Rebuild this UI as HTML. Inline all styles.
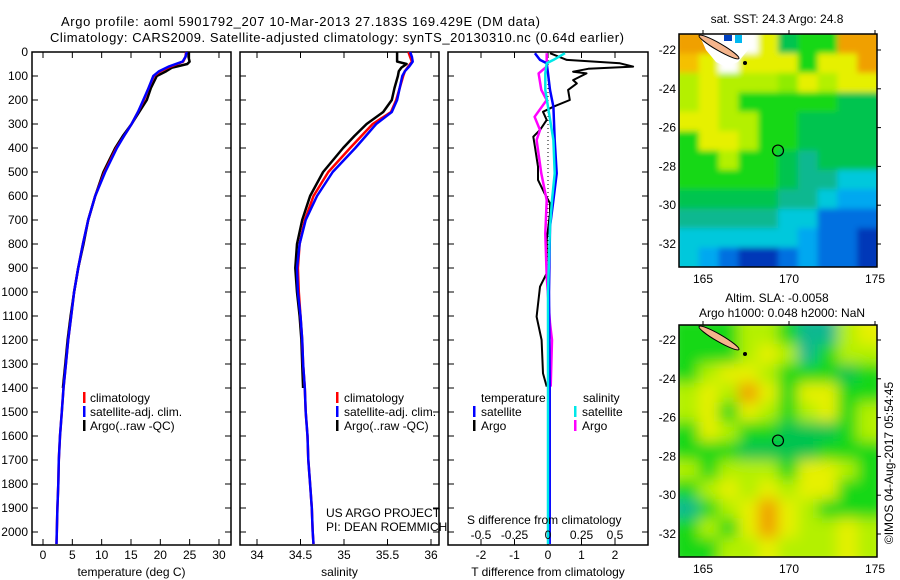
<!DOCTYPE html>
<html><head><meta charset="utf-8"><style>
body{margin:0;background:#fff}
svg{display:block;font-family:"Liberation Sans",Arial,sans-serif}
</style></head><body>
<svg id="c" width="900" height="580" viewBox="0 0 900 580" xmlns="http://www.w3.org/2000/svg">
<defs><filter id="blur" x="0" y="0" width="1" height="1"><feGaussianBlur stdDeviation="7"/></filter>
<filter id="blur2" x="0" y="0" width="1" height="1"><feGaussianBlur stdDeviation="3"/></filter>
<clipPath id="clipSST"><rect x="679" y="34" width="198" height="233"/></clipPath>
<clipPath id="clipSLA"><rect x="679" y="325" width="198" height="232"/></clipPath></defs>
<text x="61" y="26" font-size="13" textLength="479">Argo profile: aoml 5901792_207 10-Mar-2013 27.183S 169.429E (DM data)</text>
<text x="50" y="42" font-size="13" textLength="574">Climatology: CARS2009. Satellite-adjusted climatology: synTS_20130310.nc (0.64d earlier)</text>
<g id="g"></g>
</svg>
<script>
// ---------- data ----------
const depthTick = [0,100,200,300,400,500,600,700,800,900,1000,1100,1200,1300,1400,1500,1600,1700,1800,1900,2000];
const tempTicks = [0,5,10,15,20,25,30];
const salTicks = [34,34.5,35,35.5,36];
const salTickLabels = ["34","34.5","35","35.5","36"];
const tdiffTicks = [-2,-1,0,1,2];
const sdiffTicks = [-0.5,-0.25,0,0.25,0.5];
const sdiffTickLabels = ["-0.5","-0.25","0","0.25","0.5"];

const climDepth = [0,20,40,60,80,100,150,200,250,300,350,400,500,600,700,800,900,1000,1100,1200,1300,1400,1500,1600,1700,1800,1900,2000,2050];
const tempClim  = [24.4,24.3,23.9,21.8,20.0,18.9,18.0,17.2,16.2,15.1,13.8,12.5,10.5,8.9,7.7,6.8,6.0,5.3,4.8,4.3,3.9,3.5,3.2,2.9,2.7,2.6,2.45,2.35,2.3];
const tempSat   = [24.5,24.3,23.8,21.5,19.8,18.8,18.0,17.1,16.2,15.1,13.8,12.6,10.6,8.9,7.7,6.8,6.0,5.3,4.8,4.3,3.9,3.5,3.2,2.9,2.7,2.6,2.45,2.35,2.3];
const salClim   = [35.74,35.76,35.78,35.74,35.70,35.68,35.64,35.60,35.54,35.33,35.2,35.07,34.82,34.65,34.55,34.49,34.47,34.48,34.5,34.52,34.53,34.55,34.56,34.58,34.59,34.61,34.63,34.64,34.65];
const salSat    = [35.76,35.78,35.79,35.75,35.70,35.67,35.64,35.61,35.55,35.37,35.25,35.13,34.87,34.69,34.56,34.49,34.46,34.47,34.5,34.52,34.53,34.55,34.56,34.58,34.59,34.61,34.63,34.64,34.65];

const argoDepth = [0,20,40,50,65,80,100,150,200,250,300,350,400,500,600,700,800,900,1000,1100,1200,1300,1400];
const tempArgo  = [24.8,24.8,25.0,24.6,22.0,21.0,19.4,18.4,17.7,16.4,15.1,13.6,12.3,10.3,8.9,7.7,6.9,6.0,5.3,4.7,4.2,3.8,3.4];
const salArgo   = [35.61,35.61,35.61,35.72,35.66,35.63,35.62,35.58,35.55,35.45,35.26,35.12,34.99,34.76,34.61,34.52,34.46,34.44,34.46,34.49,34.51,34.52,34.53];

const diffDepth    = [5,33,47,61,70,82,89,117,131,158,200,228,249,283,325,353,394,478,533,589,631,672,783,922,978,1103,1200,1339,1394];
const tdiffArgo    = [0.06,0.56,2.15,2.54,1.2,0.75,1.15,0.75,0.86,0.6,0.65,0.16,-0.15,-0.04,-0.24,-0.44,-0.39,-0.3,-0.3,-0.1,0.06,0.06,-0.04,-0.04,-0.24,-0.34,-0.19,-0.15,-0.04];
const satDiffDepth = [5,33,47,89,158,228,367,506,617,728,1000,1400,2050];
const tdiffSat     = [-0.39,-0.24,-0.04,0,0.06,0.16,0.2,0.26,0.16,0.06,0.03,0.05,0.05];
const sdiffSat     = [0.127,0.04,-0.01,-0.02,-0.02,0,0.04,0.05,0.03,0.015,0.0,0.0,0.0];
const sArgoDepth   = [5,61,89,158,200,270,325,367,506,617,756,936,1130,1200,1394];
const sdiffArgo    = [-0.01,-0.01,-0.07,-0.05,-0.01,-0.1,-0.06,-0.085,-0.05,-0.01,-0.02,-0.01,0.015,0.03,0.02];

const sstColors = [
"OOWWYGggOO","oYWYYYgYYO","yYyyyzYyYY","yYygggggGG","YYyyggGGGG","gYYyggGGGG","ggyggGTGGG","gggggGTTCC","GGGGGTTCLL","TTTTTCCBBB","CCCCCCLBBD","CLBDDBLBBD"];
const slaColors = [
"gggyygTTyY","gggyYyTgyy","gyYYygggGg","yYyOYgYYgg","yYgYygyYgy","gYyggGGGgy","gggGGGGggg","ygyyygYYyg","gyYyYyYYgg","TgyYOYyggg","gygYOYyyYy","ggyyYyyyYy"];
const palette = {O:"#f0a000",o:"#f5c000",Y:"#e6f000",y:"#b4f000",z:"#90ec00",g:"#18d818",G:"#00c450",T:"#10b890",C:"#00c8dc",L:"#00a8f0",B:"#0070e0",D:"#0038b8",W:"#ffffff"};

// ---------- helpers ----------
const NS="http://www.w3.org/2000/svg";
const G=document.getElementById('g');
function mk(tag,attrs,parent){const e=document.createElementNS(NS,tag);for(const k in attrs)e.setAttribute(k,attrs[k]);(parent||G).appendChild(e);return e;}
const yD = d => 52 + d*0.24;
const xT = t => 43 + t*5.866;
const xS = s => 257 + (s-34)*87;
const xTd = v => 548 + v*33.5;
const xSd = v => 548 + v*134;
const P1={l:32,r:231}, P2={l:240,r:439}, P3={l:448,r:648}, TOP=52, BOT=545;

function panel(p,name,xs,xf,labels,title){
  const r=mk('rect',{x:p.l,y:TOP,width:p.r-p.l,height:BOT-TOP,fill:'none',stroke:'#000','stroke-width':1.5});
  
  
  depthTick.forEach(d=>{
    const t1=mk('line',{x1:p.l,x2:p.l+6,y1:yD(d),y2:yD(d),stroke:'#000'});
    
    
    const t2=mk('line',{x1:p.r-6,x2:p.r,y1:yD(d),y2:yD(d),stroke:'#000'});
    
    
  });
  xs.forEach((v,i)=>{
    const x=xf(v);
    const a=mk('line',{x1:x,x2:x,y1:TOP,y2:TOP+6,stroke:'#000'});
    
    
    const b=mk('line',{x1:x,x2:x,y1:BOT-6,y2:BOT,stroke:'#000'});
    
    
    const t=mk('text',{x:x,y:559,'font-size':12,'text-anchor':'middle'});t.textContent=labels[i];
    
    
  });
  const tt=mk('text',{x:(p.l+p.r)/2,y:576,'font-size':12,'text-anchor':'middle'});tt.textContent=title;
  
  
}
function line(xs,ds,xf,color,w,name){
  const pts=xs.map((v,i)=>xf(v).toFixed(1)+','+yD(ds[i]).toFixed(1)).join(' ');
  const e=mk('polyline',{points:pts,fill:'none',stroke:color,'stroke-width':w,'stroke-linejoin':'round'});
  
  
}
function txt(x,y,s,name,extra){const t=mk('text',Object.assign({x:x,y:y,'font-size':12},extra||{}));t.textContent=s;
  
  
  return t;}
function mark(x,y,color,name){const e=mk('rect',{x:x,y:y-10,width:2.5,height:11,fill:color});
  
  }

depthTick.forEach(d=>{const t=mk('text',{x:28,y:yD(d)+4,'font-size':12,'text-anchor':'end'});t.textContent=d;
  
  });

panel(P1,'temperature-panel',tempTicks,xT,tempTicks.map(String),'temperature (deg C)');
panel(P2,'salinity-panel',salTicks,xS,salTickLabels,'salinity');
panel(P3,'difference-panel',tdiffTicks,xTd,tdiffTicks.map(String),'T difference from climatology');

line(tempArgo,argoDepth,xT,'#000',2.5,'temp-argo-line');
line(tempClim,climDepth,xT,'#ff0000',2.5,'temp-climatology-line');
line(tempSat,climDepth,xT,'#0000ff',2.5,'temp-satellite-line');
line(salArgo,argoDepth,xS,'#000',2.5,'sal-argo-line');
line(salClim,climDepth,xS,'#ff0000',2.5,'sal-climatology-line');
line(salSat,climDepth,xS,'#0000ff',2.5,'sal-satellite-line');
const z=mk('line',{x1:548,x2:548,y1:TOP,y2:BOT,stroke:'#000','stroke-dasharray':'1 3'});


line(tdiffArgo,diffDepth,xTd,'#000',2,'tdiff-argo-line');
line(sdiffArgo,sArgoDepth,xSd,'#ff00ff',2.5,'sdiff-argo-line');
line(tdiffSat,satDiffDepth,xTd,'#0000ff',2.5,'tdiff-satellite-line');
line(sdiffSat,satDiffDepth,xSd,'#00e8e8',2.5,'sdiff-satellite-line');

[['#ff0000','climatology'],['#0000ff','satellite-adj. clim.'],['#000','Argo(..raw -QC)']].forEach((e,i)=>{
  mark(83,402+i*14,e[0],'legend-marker');txt(90,402+i*14,e[1],'legend-entry');
  mark(336,402+i*14,e[0],'legend-marker');txt(344,402+i*14,e[1],'legend-entry');
});
txt(481,402,'temperature','legend-temperature-heading');
txt(583,402,'salinity','legend-salinity-heading');
mark(473,416,'#0000ff','legend-marker');txt(481,416,'satellite','legend-entry');
mark(473,430,'#000','legend-marker');txt(481,430,'Argo','legend-entry');
mark(574,416,'#00e8e8','legend-marker');txt(582,416,'satellite','legend-entry');
mark(574,430,'#ff00ff','legend-marker');txt(582,430,'Argo','legend-entry');
txt(326,517,'US ARGO PROJECT','project-label');
txt(326,531,'PI: DEAN ROEMMICH','pi-label');
txt(467,524,'S difference from climatology','s-diff-axis-title');
sdiffTicks.forEach((v,i)=>txt(xSd(v),539,sdiffTickLabels[i],'s-diff-tick-label',{'text-anchor':'middle'}));

const lonTicks=[165,170,175], latTicks=[-22,-24,-26,-28,-30,-32];
const xLon = l => 703 + (l-165)*17.2;
function map(y0,h,latY,colors,clip,name,blurId,pad,sst){
  const g=mk('g',{'clip-path':'url(#'+clip+')'});
  
  
  const inner=mk('g',{filter:'url(#'+blurId+')'},g);
  const cw=198/10, ch=h/colors.length;
  colors.forEach((row,r)=>{[...row].forEach((c,k)=>{
    const x0=679+k*cw-(k==0?pad:0), w=cw+0.6+((k==0||k==9)?pad:0);
    const y1=y0+r*ch-(r==0?pad:0), hh=ch+0.6+((r==0||r==colors.length-1)?pad:0);
    const cell=mk('rect',{x:x0,y:y1,width:w,height:hh,fill:palette[c]},inner);
    
    
  });});
  if(sst){
    const wp=mk('path',{d:'M699 34 L745 34 L752 40 L748 50 L738 62 L726 67 L716 62 L706 50 Z',fill:'#fff'},g);
    
    
    const b1=mk('rect',{x:724,y:35,width:8,height:6,fill:'#0040c0'},g);
    
    
    const b2=mk('rect',{x:735,y:35,width:7,height:8,fill:'#00b8f0'},g);
    
    
  }
  const isl=mk('ellipse',{cx:719,cy:y0+13,rx:23,ry:3.6,fill:'#f4b48c',stroke:'#000','stroke-width':1,transform:'rotate(30 719 '+(y0+13)+')'},g);
  
  
  const d=mk('circle',{cx:745,cy:y0+29,r:2,fill:'#000'},g);
  
  
  const f=mk('rect',{x:679,y:y0,width:198,height:h,fill:'none',stroke:'#000','stroke-width':1.5});
  
  
  const c=mk('circle',{cx:778,cy:latY(-27.183),r:5.5,fill:'none',stroke:'#000','stroke-width':1.2});
  
  
  lonTicks.forEach(l=>{txt(xLon(l),y0+h+16,String(l),'lon-tick-label',{'text-anchor':'middle'});
    const t=mk('line',{x1:xLon(l),x2:xLon(l),y1:y0,y2:y0-4,stroke:'#000'});
    
    });
  latTicks.forEach(l=>{txt(676,latY(l)+4,String(l),'lat-tick-label',{'text-anchor':'end'});
    const t=mk('line',{x1:877,x2:881,y1:latY(l),y2:latY(l),stroke:'#000'});
    
    });
}
map(34,233,l=>50+(-22-l)*19.4,sstColors,'clipSST','sst-map','blur2',4,true);
map(325,232,l=>340+(-22-l)*19.4,slaColors,'clipSLA','sla-map','blur',10,false);
txt(777,23,'sat. SST: 24.3 Argo: 24.8','sst-map-title',{'text-anchor':'middle'});
txt(777,302,'Altim. SLA: -0.0058','sla-map-title',{'text-anchor':'middle'});
txt(782,317,'Argo h1000: 0.048 h2000: NaN','sla-map-subtitle',{'text-anchor':'middle'});
txt(0,0,'©IMOS 04-Aug-2017 05:54:45','timestamp-label',{'text-anchor':'middle',transform:'translate(893 463) rotate(-90)'});
</script>
</body></html>
